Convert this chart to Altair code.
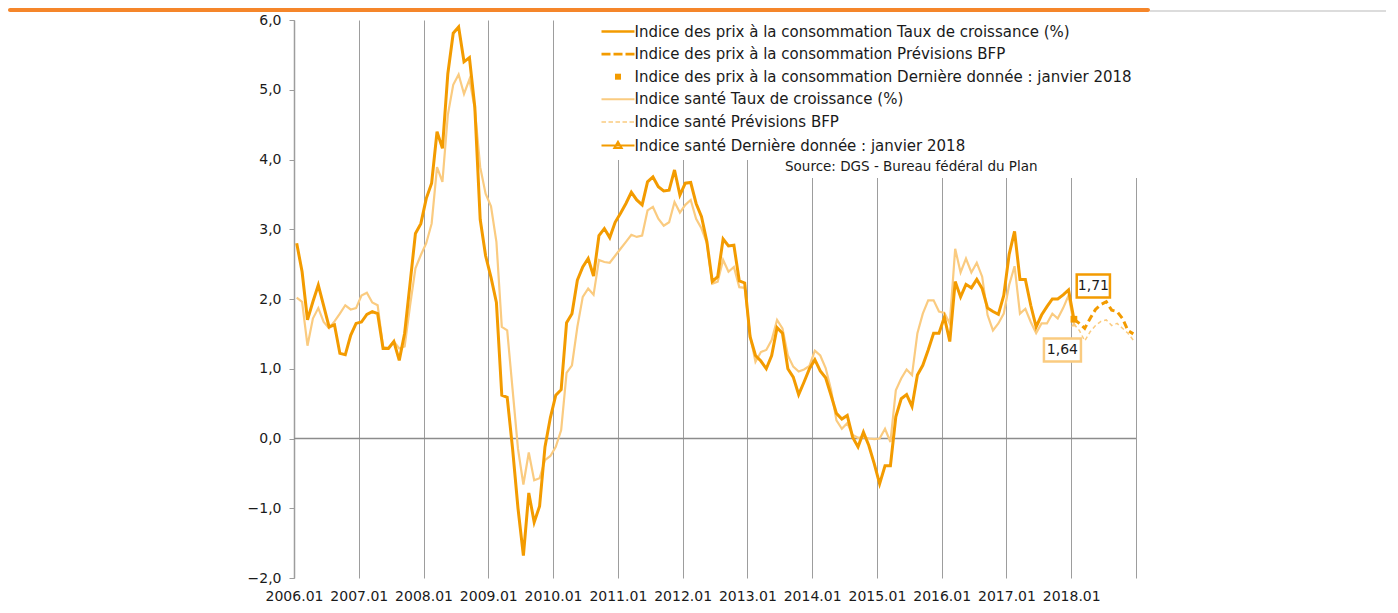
import altair as alt
import pandas as pd

# ---------------- data ----------------
# month index 0 = 2006.01 ... 144 = 2018.01, forecasts up to 155 = 2018.12
months_hist = list(range(0, 145))
cpi = [2.80, 2.39, 1.70, 1.96, 2.20, 1.90, 1.60, 1.63, 1.22, 1.20, 1.48, 1.65,
       1.67, 1.78, 1.82, 1.79, 1.29, 1.29, 1.39, 1.12, 1.51, 2.22, 2.94, 3.08,
       3.44, 3.66, 4.40, 4.16, 5.23, 5.81, 5.90, 5.40, 5.46, 4.75, 3.14, 2.62,
       2.31, 1.95, 0.62, 0.59, -0.15, -1.00, -1.68, -0.78, -1.20, -0.97, -0.12, 0.30,
       0.62, 0.70, 1.66, 1.79, 2.27, 2.46, 2.58, 2.33, 2.91, 3.01, 2.88, 3.10,
       3.23, 3.37, 3.53, 3.42, 3.35, 3.68, 3.75, 3.61, 3.55, 3.56, 3.85, 3.49,
       3.66, 3.67, 3.37, 3.18, 2.82, 2.25, 2.32, 2.86, 2.76, 2.77, 2.26, 2.23,
       1.46, 1.19, 1.11, 1.00, 1.19, 1.59, 1.51, 1.00, 0.88, 0.63, 0.81, 1.00,
       1.13, 0.97, 0.87, 0.62, 0.36, 0.28, 0.33, 0.02, -0.12, 0.09, -0.10, -0.36,
       -0.65, -0.39, -0.39, 0.31, 0.57, 0.63, 0.46, 0.91, 1.05, 1.27, 1.51, 1.51,
       1.74, 1.39, 2.25, 2.03, 2.21, 2.16, 2.28, 2.15, 1.87, 1.82, 1.78, 2.05,
       2.64, 2.97, 2.28, 2.28, 1.91, 1.60, 1.77, 1.89, 2.00, 2.00, 2.06, 2.13,
       1.71]
sante = [2.02, 1.96, 1.33, 1.72, 1.87, 1.67, 1.58, 1.68, 1.79, 1.91, 1.85, 1.87,
         2.05, 2.09, 1.95, 1.91, 1.31, 1.30, 1.39, 1.29, 1.32, 1.90, 2.44, 2.63,
         2.80, 3.08, 3.89, 3.68, 4.64, 5.07, 5.22, 4.94, 5.15, 4.73, 3.89, 3.51,
         3.33, 2.82, 1.60, 1.55, 0.70, -0.15, -0.66, -0.20, -0.60, -0.57, -0.31, -0.25,
         -0.12, 0.12, 0.94, 1.05, 1.60, 2.03, 2.15, 2.06, 2.56, 2.53, 2.52, 2.62,
         2.72, 2.82, 2.92, 2.89, 2.91, 3.27, 3.32, 3.15, 3.05, 3.10, 3.39, 3.24,
         3.35, 3.42, 3.15, 3.01, 2.80, 2.22, 2.25, 2.56, 2.39, 2.46, 2.17, 2.16,
         1.48, 1.10, 1.24, 1.27, 1.41, 1.70, 1.58, 1.19, 1.03, 0.96, 0.99, 1.04,
         1.26, 1.19, 1.01, 0.70, 0.26, 0.14, 0.22, 0.05, 0.01, 0.02, 0.00, -0.01,
         0.00, 0.14, -0.05, 0.69, 0.86, 0.99, 0.91, 1.51, 1.79, 1.98, 1.98, 1.82,
         1.80, 1.65, 2.72, 2.38, 2.58, 2.38, 2.52, 2.32, 1.77, 1.55, 1.65, 1.79,
         2.20, 2.47, 1.79, 1.86, 1.67, 1.51, 1.65, 1.65, 1.79, 1.72, 1.87, 2.05,
         1.64]
months_fc = list(range(144, 156))
cpi_fc = [1.71, 1.65, 1.58, 1.72, 1.85, 1.92, 1.96, 1.84, 1.82, 1.72, 1.55, 1.50]
sante_fc = [1.64, 1.55, 1.40, 1.53, 1.62, 1.68, 1.70, 1.62, 1.65, 1.58, 1.51, 1.41]

last_month = [144]
cpi_last = [1.71]
sante_last = [1.64]

year_ticks = list(range(0, 157, 12))
y_ticks = [-2, -1, 0, 1, 2, 3, 4, 5, 6]

legend_names = [
    "Indice des prix à la consommation Taux de croissance (%)",
    "Indice des prix à la consommation Prévisions BFP",
    "Indice des prix à la consommation Dernière donnée : janvier 2018",
    "Indice santé Taux de croissance (%)",
    "Indice santé Prévisions  BFP",
    "Indice santé Dernière donnée : janvier 2018",
]
source_text = ["Source: DGS - Bureau fédéral du Plan"]

# ---------------- styling ----------------
DARK = "#F39B00"
LIGHT = "#FACB80"
HEAD = "#F5862A"
FONT = "DejaVu Sans"
TXT = "#1a1a1a"

W, H = 842, 558


def frame(months, values):
    return pd.DataFrame({"t": [m + 0.5 for m in months], "v": values})


x_enc = alt.X(
    "t:Q",
    scale=alt.Scale(domain=[0, 156], nice=False, zero=False),
    axis=alt.Axis(
        values=year_ticks,
        labelExpr="datum.value >= 156 ? '' : (2006 + floor(datum.value / 12)) + '.01'",
        grid=True, gridColor="#9d9d9d", gridWidth=1,
        domain=False, ticks=False,
        labelFont=FONT, labelFontSize=14, labelColor=TXT,
        labelPadding=11, labelFlush=False, labelOverlap=False, title=None,
    ),
)
y_enc = alt.Y(
    "v:Q",
    scale=alt.Scale(domain=[-2, 6], nice=False, zero=False),
    axis=alt.Axis(
        values=y_ticks,
        labelExpr="replace(format(datum.value, '.1f'), '.', ',')",
        grid=False, domainColor="#9d9d9d", domainWidth=1.5,
        tickColor="#9d9d9d", tickSize=5, tickWidth=1,
        labelFont=FONT, labelFontSize=14, labelColor=TXT,
        labelPadding=8, title=None,
    ),
)

# header strip, top rule and source box (decoration)
header = alt.Chart(pd.DataFrame({"a": [0]})).mark_rect(color=HEAD, cornerRadius=2).encode(
    x=alt.value(-286), x2=alt.value(856), y=alt.value(-12), y2=alt.value(-8)
)
top_rule = alt.Chart(pd.DataFrame({"a": [0]})).mark_rule(color="#d0d0d0", strokeWidth=1.5).encode(
    x=alt.value(856), x2=alt.value(1092), y=alt.value(-9)
)
source_bg = alt.Chart(pd.DataFrame({"a": [0]})).mark_rect(color="white").encode(
    x=alt.value(468), x2=alt.value(852), y=alt.value(-1), y2=alt.value(158)
)
source = alt.Chart(pd.DataFrame({"s": source_text})).mark_text(
    font=FONT, fontSize=13.5, color=TXT, align="left", baseline="middle"
).encode(text="s:N", x=alt.value(491), y=alt.value(147))

zero_line = alt.Chart(pd.DataFrame({"v": [0]})).mark_rule(
    color="#8c8c8c", strokeWidth=1.5
).encode(y=y_enc)

sante_line = alt.Chart(frame(months_hist, sante)).mark_line(
    color=LIGHT, strokeWidth=2.2
).encode(x=x_enc, y=y_enc)
sante_fc_line = alt.Chart(frame(months_fc, sante_fc)).mark_line(
    color=LIGHT, strokeWidth=1.5, strokeDash=[4, 3]
).encode(x=x_enc, y=y_enc)
cpi_line = alt.Chart(frame(months_hist, cpi)).mark_line(
    color=DARK, strokeWidth=3
).encode(x=x_enc, y=y_enc)
cpi_fc_line = alt.Chart(frame(months_fc, cpi_fc)).mark_line(
    color=DARK, strokeWidth=3, strokeDash=[7, 4]
).encode(x=x_enc, y=y_enc)

sante_pt = alt.Chart(frame(last_month, sante_last)).mark_point(
    shape="triangle-up", size=30, filled=True, color=LIGHT, opacity=1
).encode(x=x_enc, y=y_enc)
cpi_pt = alt.Chart(frame(last_month, cpi_last)).mark_square(
    size=45, color=DARK, opacity=1
).encode(x=x_enc, y=y_enc)


# value labels in boxes
def label_frame(values):
    df = frame(last_month, values)
    df["lab"] = [f"{v:.2f}".replace(".", ",") for v in values]
    return df


cpi_box = alt.Chart(label_frame(cpi_last)).mark_point(
    shape="M0.56,-8.94H7.2V-4.34H0.56Z", size=100, filled=True,
    fill="white", stroke=DARK, strokeWidth=2.5, opacity=1
).encode(x=x_enc, y=y_enc)
cpi_txt = alt.Chart(label_frame(cpi_last)).mark_text(
    font=FONT, fontSize=14, color=TXT, dx=19.5, dy=-33
).encode(x=x_enc, y=y_enc, text="lab:N")
sante_box = alt.Chart(label_frame(sante_last)).mark_point(
    shape="M-6,2.88H1.4V7.48H-6Z", size=100, filled=True,
    fill="white", stroke=LIGHT, strokeWidth=2.5, opacity=1
).encode(x=x_enc, y=y_enc)
sante_txt = alt.Chart(label_frame(sante_last)).mark_text(
    font=FONT, fontSize=14, color=TXT, dx=-11.5, dy=26
).encode(x=x_enc, y=y_enc, text="lab:N")

# legend (symbols drawn as custom paths, 1 unit = 5 px)
legend_paths = [
    "M0,0H6.6",
    "M0,0H1.8M2.4,0H4.2M4.8,0H6.6",
    "M3.0,-0.3H3.6V0.3H3.0Z",
    "M0,0H6.6",
    "M0,0H0.9M1.4,0H2.3M2.8,0H3.7M4.2,0H5.1M5.6,0H6.5",
    "M0,0H6.6M3.3,-0.7L4.0,0.5L2.6,0.5Z",
]
legend_colors = [DARK, DARK, DARK, LIGHT, LIGHT, DARK]
legend_widths = [2.6, 2.6, 3.0, 2.0, 1.5, 2.2]

leg = alt.Legend(
    title=None, orient="none", legendX=294, legendY=-2,
    fillColor="white", padding=6, symbolSize=100,
    labelFont=FONT, labelFontSize=15, labelColor=TXT, labelLimit=0,
    labelOffset=25.5, rowPadding=6.6,
)
legend_layer = alt.Chart(pd.DataFrame({"series": legend_names})).mark_point(
    filled=False, opacity=1
).encode(
    shape=alt.Shape("series:N", scale=alt.Scale(domain=legend_names, range=legend_paths), legend=leg),
    color=alt.Color("series:N", scale=alt.Scale(domain=legend_names, range=legend_colors), legend=leg),
    strokeWidth=alt.StrokeWidth("series:N", scale=alt.Scale(type="ordinal", domain=legend_names, range=legend_widths), legend=leg),
).transform_filter("false")

chart = alt.layer(
    header, top_rule, zero_line, source_bg, source,
    sante_line, sante_fc_line, cpi_line, cpi_fc_line,
    sante_pt, cpi_pt, cpi_box, cpi_txt, sante_box, sante_txt,
    legend_layer,
).properties(
    width=W, height=H,
    autosize=alt.AutoSizeParams(type="none"),
    padding={"left": 286, "top": 12, "right": 250, "bottom": 26},
    background="white",
).configure_view(stroke=None)

chart.save("out.html", embed_options={"renderer": "svg", "actions": False})
